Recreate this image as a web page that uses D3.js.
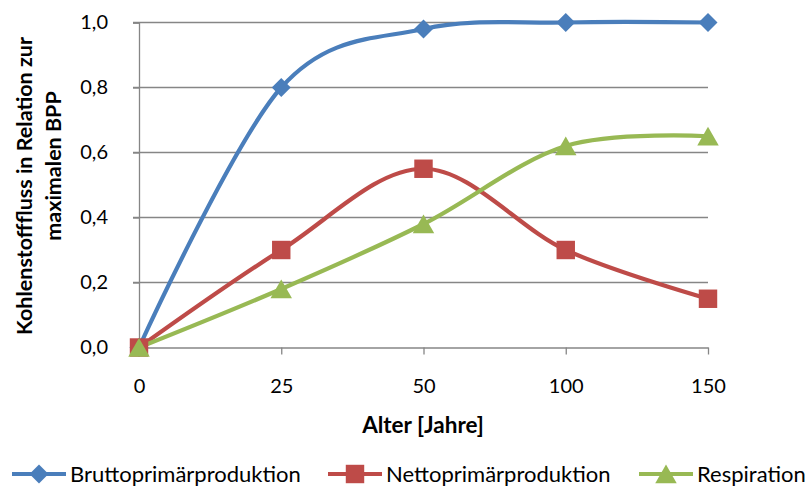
<!DOCTYPE html>
<html><head><meta charset="utf-8">
<script src="https://cdn.jsdelivr.net/npm/d3@7"></script>
<style>body{margin:0;background:#fff}svg{display:block}text{font-family:Lato,"Open Sans",sans-serif;fill:#000}</style>
</head><body><svg id="c" width="810" height="487"></svg>
<script>
const categories = ["0","25","50","100","150"];
const bpp = [0, 0.8, 0.98, 1.0, 1.0];
const npp = [0, 0.3, 0.55, 0.3, 0.15];
const resp = [0, 0.18, 0.38, 0.62, 0.65];
const yTicks = [0, 0.2, 0.4, 0.6, 0.8, 1.0];
const seriesNames = ["Bruttoprimärproduktion","Nettoprimärproduktion","Respiration"];
const colors = ["#4A7EBB","#BE4B48","#98B954"];
const symbols = [d3.symbolDiamond2, d3.symbolSquare, d3.symbolTriangle];
const allSeries = [bpp, npp, resp];

const svg = d3.select("#c");
const x = d3.scalePoint().domain(categories).range([139, 708]);
const y = d3.scaleLinear().domain([0, 1]).range([347.5, 22.5]);
const fmt = d => d3.format(".1f")(d).replace(".", ",");

// grid
svg.append("g").selectAll("line").data(yTicks.slice(1)).join("line")
  .attr("x1", 133).attr("x2", 708).attr("y1", d => y(d)).attr("y2", d => y(d))
  .attr("stroke", "#868686").attr("stroke-width", 1.3);

// y axis
const ya = svg.append("g").attr("transform", "translate(139,0)")
  .call(d3.axisLeft(y).tickValues(yTicks).tickFormat(fmt).tickSize(6).tickPadding(25));
ya.select(".domain").attr("stroke", "#868686").attr("stroke-width", 1.3);
ya.selectAll(".tick line").attr("stroke", "#868686").attr("stroke-width", 1.3);
ya.selectAll("text").attr("font-size", 20).attr("font-family", "Lato").attr("fill", "#000");

// x axis
const xa = svg.append("g").attr("transform", "translate(0,347.5)")
  .call(d3.axisBottom(x).tickSize(7).tickPadding(24).tickSizeOuter(0));
xa.select(".domain").attr("stroke", "#868686").attr("stroke-width", 1.3);
xa.selectAll(".tick line").attr("stroke", "#868686").attr("stroke-width", 1.3);
xa.selectAll("text").attr("font-size", 20).attr("font-family", "Lato").attr("fill", "#000");

// titles
svg.append("text").attr("x", 423).attr("y", 433).attr("text-anchor", "middle")
  .attr("font-size", 22.5).attr("font-weight", "bold").text("Alter [Jahre]");
svg.append("text").attr("transform", "translate(32,186) rotate(-90)")
  .attr("text-anchor", "middle").attr("font-size", 21.5).attr("font-weight", "bold")
  .text("Kohlenstofffluss in Relation zur");
svg.append("text").attr("transform", "translate(61,166) rotate(-90)")
  .attr("text-anchor", "middle").attr("font-size", 21.5).attr("font-weight", "bold")
  .text("maximalen BPP");

// lines
const line = d3.line().x((d, i) => x(categories[i])).y(d => y(d)).curve(d3.curveCardinal.tension(0));
const symSizes = [230, 340, 200];
const symDy = [0, 0, 3];
allSeries.forEach((s, k) => {
  svg.append("path").datum(s).attr("d", line).attr("fill", "none")
    .attr("stroke", colors[k]).attr("stroke-width", 4.2).attr("stroke-linecap", "round");
});
allSeries.forEach((s, k) => {
  svg.append("g").selectAll("path").data(s).join("path")
    .attr("transform", (d, i) => `translate(${x(categories[i])},${y(d) + symDy[k]})`)
    .attr("d", d3.symbol().type(symbols[k]).size(symSizes[k])).attr("fill", colors[k]);
});

// legend
const legX = [12, 328, 639];
seriesNames.forEach((n, k) => {
  const g = svg.append("g").attr("transform", `translate(${legX[k]},474)`);
  g.append("line").attr("x1", 0).attr("x2", 54).attr("stroke", colors[k]).attr("stroke-width", 4.2);
  g.append("path").attr("transform", `translate(27,${symDy[k]})`)
    .attr("d", d3.symbol().type(symbols[k]).size(symSizes[k])).attr("fill", colors[k]);
  g.append("text").attr("x", 58).attr("y", 8).attr("font-size", 22).text(n);
});
</script></body></html>
